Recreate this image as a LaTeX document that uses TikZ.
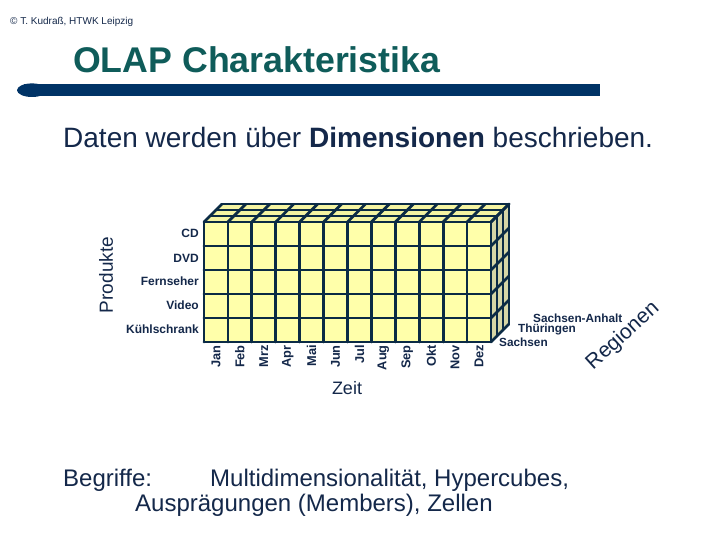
\documentclass[tikz,border=0pt]{standalone}
\usepackage{fontspec}
\setmainfont{Liberation Sans}
\definecolor{navy}{HTML}{14284A}
\definecolor{linecol}{HTML}{0B2B45}
\definecolor{titlecol}{HTML}{0F5C5A}
\definecolor{barcol}{HTML}{003366}
\definecolor{frontfill}{HTML}{FFFFAA}
\definecolor{topfill}{HTML}{F4F4A2}
\definecolor{sidefill}{HTML}{D6D6A6}
\begin{document}
\begin{tikzpicture}[x=1pt,y=-1pt,
  grid/.style={draw=linecol,line width=2.8pt,line cap=round},
  month/.style={font=\fontsize{12.8}{13}\selectfont\bfseries,text=navy,rotate=90,anchor=east,inner sep=0pt},
  prod/.style={font=\fontsize{12}{12}\selectfont\bfseries,text=navy,anchor=east,inner sep=0pt},
  reg/.style={font=\fontsize{11.8}{12}\selectfont\bfseries,text=navy,anchor=west,inner sep=0pt},
  axis/.style={text=navy,inner sep=0pt}]
\useasboundingbox (0,0) rectangle (720,540);
\fill[white] (0,0) rectangle (720,540);

% header
\node[anchor=base west,inner sep=0pt,text=navy,font=\fontsize{10}{10}\selectfont] (copy) at (10,24.5) {© T. Kudraß, HTWK Leipzig};
\node[anchor=base west,inner sep=0pt,text=titlecol,font=\fontsize{35.7}{36}\selectfont\bfseries] (title) at (73,72.3) {OLAP Charakteristika};
\fill[barcol] (24,84) rectangle (600,96);
\fill[barcol] (32,90.2) ellipse (15 and 6.8);

\node[anchor=base west,inner sep=0pt,text=navy,font=\fontsize{28}{30}\selectfont] (intro) at (63,147.3) {Daten werden über \textbf{Dimensionen} beschrieben.};

% cube
\def\cw{23.917}
\fill[frontfill] (204,222) rectangle (491,342);
\fill[topfill] (204,222) -- (222,204) -- (509,204) -- (491,222) -- cycle;
\fill[sidefill] (491,222) -- (509,204) -- (509,324) -- (491,342) -- cycle;
\foreach \i in {0,...,12} {
  \draw[grid] ({204+\i*\cw},222) -- ({204+\i*\cw},342);
  \draw[grid] ({204+\i*\cw},222) -- ++(18,-18);
}
\foreach \j in {0,...,5} {
  \draw[grid] (204,{222+24*\j}) -- (491,{222+24*\j});
  \draw[grid] (491,{222+24*\j}) -- ++(18,-18);
}
\foreach \k in {1,2,3} {
  \draw[grid] ({204+6*\k},{222-6*\k}) -- ({491+6*\k},{222-6*\k});
  \draw[grid] ({491+6*\k},{222-6*\k}) -- ({491+6*\k},{342-6*\k});
}

% months
\foreach \m [count=\c from 0] in {Jan,Feb,Mrz,Apr,Mai,Jun,Jul,Aug,Sep,Okt,Nov,Dez} {
  \node[month] (m\c) at ({204+\cw/2+\c*\cw},345) {\m};
}

% products
\node[prod] (p1) at (199,233) {CD};
\node[prod] (p2) at (199,258) {DVD};
\node[prod] (p3) at (199,281) {Fernseher};
\node[prod] (p4) at (199,305) {Video};
\node[prod] (p5) at (199,329) {Kühlschrank};

% regions
\node[reg] (r1) at (533,318) {Sachsen-Anhalt};
\node[reg] (r2) at (518,329.5) {Thüringen};
\node[reg] (r3) at (499,342) {Sachsen};

% axis names
\node[axis,rotate=90,font=\fontsize{19}{20}\selectfont] (produkte) at (106,275) {Produkte};
\node[axis,anchor=base,font=\fontsize{18}{20}\selectfont] (zeit) at (347,394) {Zeit};
\node[axis,rotate=42,font=\fontsize{21}{22}\selectfont] (regionen) at (623,336) {Regionen};

% bottom
\node[anchor=base west,inner sep=0pt,text=navy,font=\fontsize{24}{26}\selectfont] (begr) at (63,486) {Begriffe:};
\node[anchor=base west,inner sep=0pt,text=navy,font=\fontsize{24}{26}\selectfont] (begr1) at (210,486) {Multidimensionalität, Hypercubes,};
\node[anchor=base west,inner sep=0pt,text=navy,font=\fontsize{24}{26}\selectfont] (begr2) at (135,511) {Ausprägungen (Members), Zellen};
\end{tikzpicture}
\end{document}
